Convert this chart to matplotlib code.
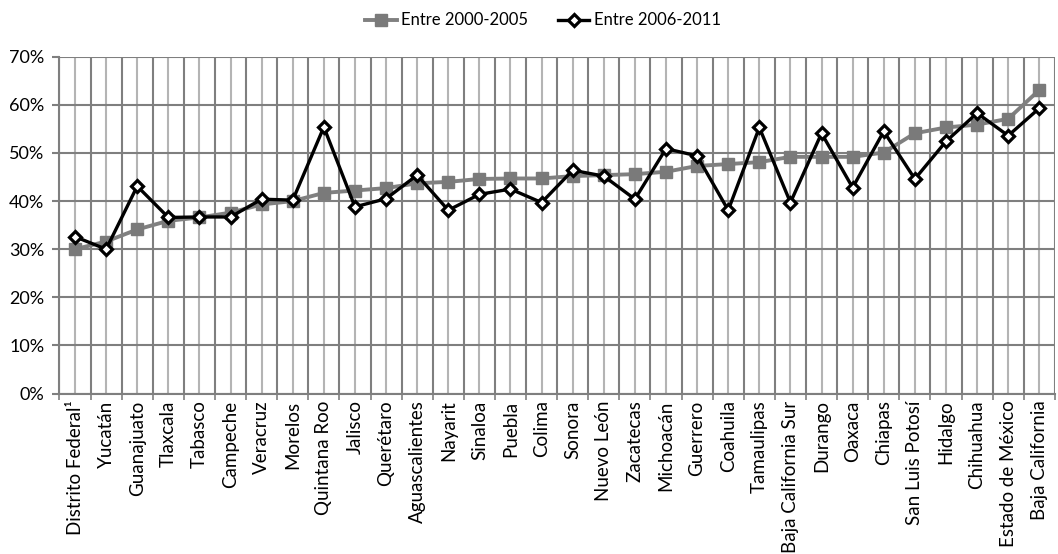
import matplotlib
matplotlib.use("Agg")
import matplotlib.pyplot as plt
import numpy as np
from matplotlib.ticker import PercentFormatter

plt.rcParams['font.family'] = ['Lato', 'DejaVu Sans']

estados = ["Distrito Federal\u00b9", "Yucatán", "Guanajuato", "Tlaxcala", "Tabasco",
           "Campeche", "Veracruz", "Morelos", "Quintana Roo", "Jalisco", "Querétaro",
           "Aguascalientes", "Nayarit", "Sinaloa", "Puebla", "Colima", "Sonora",
           "Nuevo León", "Zacatecas", "Michoacán", "Guerrero", "Coahuila", "Tamaulipas",
           "Baja California Sur", "Durango", "Oaxaca", "Chiapas", "San Luis Potosí",
           "Hidalgo", "Chihuahua", "Estado de México", "Baja California"]

# porcentajes
p2000_2005 = [30.0, 31.6, 34.1, 35.9, 36.6, 37.6, 39.3, 40.0, 41.7, 42.2, 42.7,
              43.7, 44.0, 44.6, 44.7, 44.7, 45.2, 45.4, 45.6, 46.1, 47.3, 47.7,
              48.1, 49.2, 49.2, 49.2, 50.1, 54.1, 55.3, 55.9, 57.1, 63.1]
p2006_2011 = [32.6, 30.0, 43.1, 36.6, 36.7, 36.7, 40.4, 40.2, 55.4, 38.8, 40.5,
              45.4, 38.1, 41.4, 42.5, 39.7, 46.4, 45.2, 40.4, 50.9, 49.4, 38.1,
              55.3, 39.7, 54.1, 42.8, 54.5, 44.6, 52.4, 58.3, 53.6, 59.3]

x = np.arange(len(estados))

fig = plt.figure(figsize=(10.58, 5.54), dpi=100)
ax = fig.add_axes([0.0562, 0.2897, 0.9408, 0.6078])

ax.plot(x, p2000_2005, color='#808080', lw=2.8, marker='s', ms=9,
        mfc='#7a7a7a', mec='#7a7a7a', label='Entre 2000-2005', zorder=3)
ax.plot(x, p2006_2011, color='black', lw=2.4, marker='D', ms=6.5,
        mfc='white', mec='black', mew=2.3, label='Entre 2006-2011', zorder=4)

ax.set_xlim(-0.5, len(estados) - 0.5)
ax.set_ylim(0, 70)
ax.set_yticks(np.arange(0, 71, 10))
ax.yaxis.set_major_formatter(PercentFormatter(decimals=0))

ax.set_xticks(x)
ax.set_xticklabels(estados, rotation=90)
ax.set_xticks(np.arange(-0.5, len(estados), 1), minor=True)

ax.grid(axis='y', color='#7f7f7f', lw=1.5, zorder=0)
ax.grid(axis='x', which='major', color='#b4b4b4', lw=1.5, zorder=0)
ax.grid(axis='x', which='minor', color='#7f7f7f', lw=1.5, zorder=0)

ax.tick_params(axis='x', which='major', length=0, pad=5, labelsize=13.5)
ax.tick_params(axis='x', which='minor', length=4, width=1.2, color='#7f7f7f')
ax.tick_params(axis='y', length=5, width=1.5, color='#7f7f7f', labelsize=13, pad=6)

for s in ['top', 'right']:
    ax.spines[s].set_visible(False)
ax.spines['left'].set_color('#7f7f7f')
ax.spines['bottom'].set_color('#7f7f7f')
ax.spines['left'].set_linewidth(1.5)
ax.spines['bottom'].set_linewidth(1.5)

fig.legend(loc='center', bbox_to_anchor=(0.513, 0.963), ncol=2, frameon=False,
           fontsize=12, handlelength=1.9, columnspacing=1.8, handletextpad=0.25)

fig.savefig('out.png', dpi=100)
